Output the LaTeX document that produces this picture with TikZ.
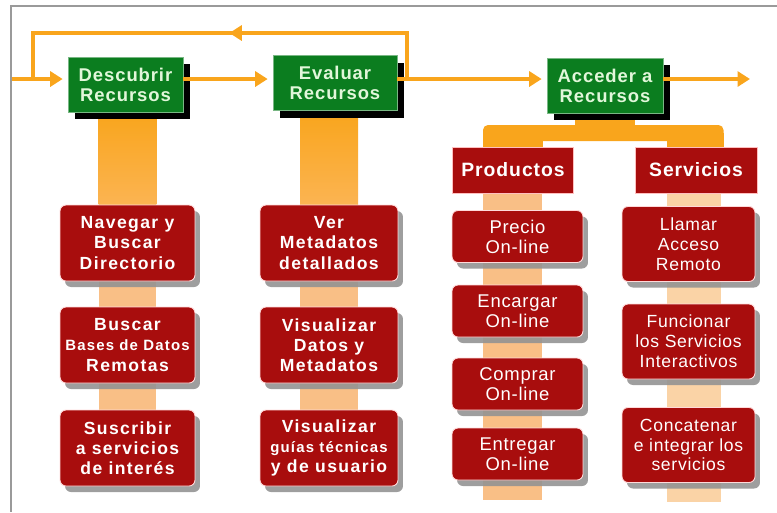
\documentclass[tikz,border=0pt]{standalone}
\usepackage{fontspec}
\setmainfont{Liberation Sans}
\newfontfamily\fuentetit[LetterSpace=5]{Liberation Sans}
\newfontfamily\fuentecaja[LetterSpace=8]{Liberation Sans}
\newfontfamily\fuenteserv[LetterSpace=4]{Liberation Sans}
\usetikzlibrary{arrows.meta,shadows,backgrounds,decorations.markings}

\definecolor{verde}{HTML}{0B7D1F}
\definecolor{textoverde}{HTML}{E2F7DA}
\definecolor{rojo}{HTML}{A80D0D}
\definecolor{naranja}{HTML}{F9A51C}
\definecolor{naranjamedio}{HTML}{FBB452}
\definecolor{naranjaclaro}{HTML}{F9BF86}
\definecolor{naranjapalido}{HTML}{FAD3A6}
\definecolor{marco}{HTML}{9A9A9A}

\tikzset{
    etapa/.style={fill=verde, draw=verde!55!white, line width=0.4pt, text=textoverde,
        font=\fuentetit\bfseries\fontsize{10.5}{11.5}\selectfont, align=center,
        minimum width=2.3cm, minimum height=1.1cm, inner sep=0pt,
        drop shadow={shadow xshift=0.14cm, shadow yshift=-0.14cm, fill=black, opacity=1}},
    tarea/.style={fill=rojo, draw=red!15!white, line width=0.5pt, rounded corners=0.12cm,
        text=white, align=center, inner sep=0pt,
        drop shadow={shadow xshift=0.1cm, shadow yshift=-0.12cm, fill=gray!85, opacity=0.9}},
    tareaizq/.style={tarea, font=\fuentecaja\bfseries\fontsize{10}{11.5}\selectfont,
        minimum width=2.7cm, minimum height=1.52cm},
    tareader/.style={tarea, font=\fuenteserv\fontsize{10.5}{11.3}\selectfont},
    cabecera/.style={fill=rojo, draw=red!25!white, line width=0.4pt, text=white,
        font=\fuentetit\bfseries\fontsize{11}{12}\selectfont,
        minimum width=2.42cm, minimum height=0.92cm, inner sep=0pt},
    linea/.style={draw=naranja, line width=1.8pt},
    flecha/.style={linea, -{Triangle[length=0.25cm,width=0.3cm]}, shorten >=0.1cm}
}
\newcommand{\chica}{\fontsize{8.5}{10}\selectfont}

\begin{document}
\begin{tikzpicture}[x=0.02cm, y=-0.02cm]
    \useasboundingbox (0,0) rectangle (777,512);
    \draw[marco, line width=1pt] (777,6) -- (11,6) -- (11,512);

    % etapas
    \node[etapa] (desc) at (125.5,84.5) {Descubrir\\Recursos};
    \node[etapa, minimum width=2.48cm] (eval) at (335,83) {Evaluar\\Recursos};
    \node[etapa, minimum width=2.32cm] (acce) at (605,85.5) {Acceder a\\Recursos};

    \coordinate (entrada) at (12,79);
    \coordinate (salida) at (755,79);
    \coordinate (retorno) at (407,79);
    \coordinate (arriba) at (33,33);
    \coordinate (union) at (33,79);

    \draw[flecha] (entrada) -- (entrada -| desc.west);
    \draw[flecha] (desc.east |- entrada) -- (eval.west |- entrada);
    \draw[flecha] (eval.east |- entrada) -- (acce.west |- entrada);
    \draw[flecha] (acce.east |- entrada) -- (salida);
    \draw[linea, postaction={decorate}, decoration={markings,
        mark=at position 0.48 with {\arrow{Triangle[length=0.25cm,width=0.3cm]}}}]
        (retorno) |- (arriba) -- (union);

    % columnas de tareas
    \foreach \n/\y/\txt in {d1/243/{Navegar y\\Buscar\\Directorio},
                            d2/345/{Buscar\\{\chica Bases de Datos}\\Remotas},
                            d3/448/{Suscribir\\a servicios\\de interés}} {
        \node[tareaizq] (\n) at (127.5,\y) {\txt};
    }
    \foreach \n/\y/\txt in {e1/243/{Ver\\Metadatos\\detallados},
                            e2/345/{Visualizar\\Datos y\\Metadatos},
                            e3/448/{Visualizar\\{\chica guías técnicas}\\y de usuario}} {
        \node[tareaizq, minimum width=2.76cm] (\n) at (329,\y) {\txt};
    }

    \node[cabecera] (prod) at (513,170) {Productos};
    \node[cabecera, minimum width=2.44cm] (serv) at (696,170) {Servicios};

    \foreach \n/\y/\txt in {p1/236.5/Precio, p2/311/Encargar, p3/384/Comprar, p4/454/Entregar} {
        \node[tareader, minimum width=2.62cm, minimum height=1.04cm] (\n) at (517.5,\y) {\txt\\On-line};
    }
    \foreach \n/\y/\txt in {s1/244/{Llamar\\Acceso\\Remoto},
                            s2/341.5/{Funcionar\\los Servicios\\Interactivos},
                            s3/445/{Concatenar\\e integrar los\\servicios}} {
        \node[tareader, font=\fuenteserv\fontsize{10}{11.3}\selectfont,
              minimum width=2.66cm, minimum height=1.5cm] (\n) at (688.5,\y) {\txt};
    }

    \coordinate (finp) at (512.5,500);
    \coordinate (fins) at (693.5,502);

    % barras
    \begin{scope}[on background layer]
        \shade[top color=naranja, bottom color=naranjamedio]
            ([xshift=-0.58cm]d1.north |- desc.south) rectangle ([xshift=0.58cm]d1.north);
        \shade[top color=naranja, bottom color=naranjamedio]
            ([xshift=-0.58cm]e1.north |- eval.south) rectangle ([xshift=0.58cm]e1.north);
        \foreach \a/\b in {d1/d2, d2/d3, e1/e2, e2/e3} {
            \fill[naranjaclaro] ([xshift=-0.58cm]\a.south) rectangle ([xshift=0.58cm]\b.north);
        }
        \foreach \a/\b in {prod/p1, p1/p2, p2/p3, p3/p4, p4/finp} {
            \fill[naranjaclaro] ([xshift=-0.59cm]\a.south -| finp) rectangle ([xshift=0.59cm]\b.north -| finp);
        }
        \foreach \a/\b in {serv/s1, s1/s2, s2/s3, s3/fins} {
            \fill[naranjapalido] ([xshift=-0.54cm]\a.south -| fins) rectangle ([xshift=0.54cm]\b.north -| fins);
        }
        \fill[naranja] ([xshift=-0.6cm]acce.south) rectangle ([xshift=0.6cm]acce.south |- 0,127);
        \fill[naranja, rounded corners=0.1cm]
            ([xshift=-0.6cm]prod.north |- 0,125) rectangle ([xshift=0.55cm]serv.north |- 0,141);
        \fill[naranja] ([xshift=-0.6cm]prod.north |- 0,133) rectangle ([xshift=0.6cm]prod.north);
        \fill[naranja] ([xshift=-0.58cm]serv.north |- 0,133) rectangle ([xshift=0.55cm]serv.north);
    \end{scope}
\end{tikzpicture}
\end{document}
